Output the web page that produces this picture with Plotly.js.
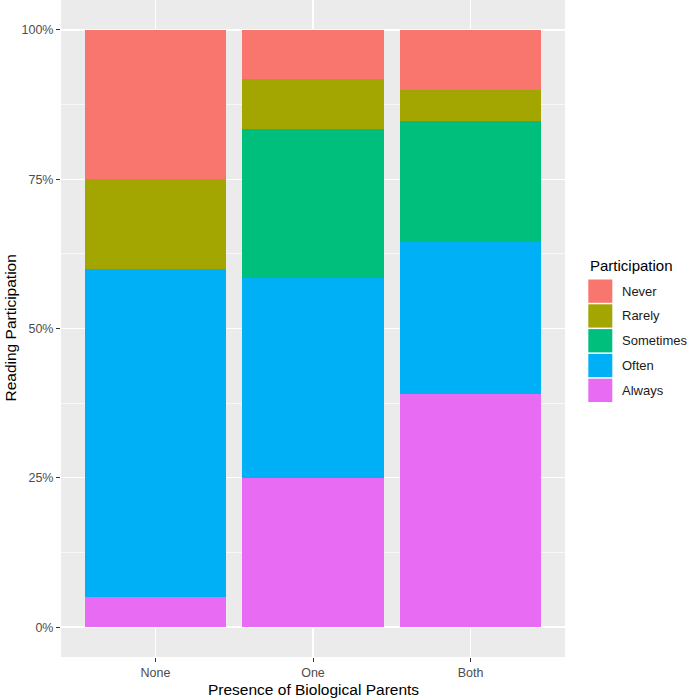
<!DOCTYPE html>
<html>
<head>
<meta charset="utf-8">
<script src="https://cdn.plot.ly/plotly-3.0.1.min.js"></script>
<style>
  html, body { margin: 0; padding: 0; background: #fff; }
  #plot { width: 690px; height: 699px; }
</style>
</head>
<body>
<div id="plot"></div>
<script>
// categories on the x axis
const categories = ["None", "One", "Both"]
// participation levels, legend order (top to bottom)
const levels = ["Never", "Rarely", "Sometimes", "Often", "Always"]
const colors = ["#F8766D", "#A3A500", "#00BF7D", "#00B0F6", "#E76BF3"]

// percentages per category (None, One, Both)
const never = [25.0, 8.3, 10.0]
const rarely = [15.0, 8.3, 5.2]
const sometimes = [0.0, 25.0, 20.3]
const often = [55.0, 33.4, 25.4]
const always = [5.0, 25.0, 39.1]

const yTicks = [0, 25, 50, 75, 100]

const series = [never, rarely, sometimes, often, always]

// plot area in pixels
const L = 61, R = 125, T = 0, B = 42, W = 690, H = 699
const pw = W - L - R, ph = H - T - B
const px = x => (x - L) / pw
const py = y => (H - B - y) / ph

const font = "Liberation Sans, Arial, sans-serif"

// stack from bottom: Always first, Never last
const data = []
for (let i = levels.length - 1; i >= 0; i--){
    data.push({
        type: "bar",
        name: levels[i],
        x: categories,
        y: series[i],
        marker: {color: colors[i], line: {width: 0}},
        hoverinfo: "x+y+name",
        showlegend: false
    })
}

const shapes = [], annotations = []

// hand-made legend in ggplot style
annotations.push({
    text: "Participation", xref: "paper", yref: "paper",
    x: px(588), y: py(265), xanchor: "left", yanchor: "middle",
    showarrow: false, font: {family: font, size: 15, color: "#000"}
})
for (let i = 0; i < levels.length; i++){
    const top = 279.5 + i * 24.8
    shapes.push({
        type: "rect", xref: "paper", yref: "paper",
        x0: px(588.3), x1: px(612.3), y0: py(top), y1: py(top + 23.3),
        fillcolor: colors[i], line: {width: 0}
    })
    annotations.push({
        text: levels[i], xref: "paper", yref: "paper",
        x: px(619.5), y: py(top + 11.6), xanchor: "left", yanchor: "middle",
        showarrow: false, font: {family: font, size: 13, color: "#1a1a1a"}
    })
}

// axis titles
annotations.push({
    text: "Presence of Biological Parents", xref: "paper", yref: "paper",
    x: 0.5, y: py(689), xanchor: "center", yanchor: "middle",
    showarrow: false, font: {family: font, size: 15.5, color: "#000"}
})
annotations.push({
    text: "Reading Participation", xref: "paper", yref: "paper",
    x: px(10), y: 0.5, xanchor: "center", yanchor: "middle", textangle: -90,
    showarrow: false, font: {family: font, size: 15.5, color: "#000"}
})

const layout = {
    width: W,
    height: H,
    margin: {l: L, r: R, t: T, b: B, pad: 0},
    paper_bgcolor: "#ffffff",
    plot_bgcolor: "#EBEBEB",
    barmode: "stack",
    bargap: 0.1,
    showlegend: false,
    font: {family: font},
    xaxis: {
        type: "category",
        categoryorder: "array",
        categoryarray: categories,
        range: [-0.6, 2.6],
        showgrid: true,
        gridcolor: "#ffffff",
        gridwidth: 1.3,
        zeroline: false,
        showline: false,
        ticks: "outside",
        ticklen: 4,
        tickwidth: 1,
        tickcolor: "#333333",
        tickfont: {family: font, size: 12.5, color: "#4D4D4D"},
        fixedrange: true
    },
    yaxis: {
        range: [-5, 105],
        tickmode: "array",
        tickvals: yTicks,
        ticktext: yTicks.map(v => v + "%"),
        showgrid: true,
        gridcolor: "#ffffff",
        gridwidth: 1.3,
        minor: {dtick: 12.5, tick0: 0, showgrid: true, gridcolor: "#ffffff", gridwidth: 0.6, ticks: ""},
        zeroline: false,
        showline: false,
        ticks: "outside",
        ticklen: 4,
        tickwidth: 1,
        tickcolor: "#333333",
        tickfont: {family: font, size: 12.5, color: "#4D4D4D"},
        fixedrange: true
    },
    shapes: shapes,
    annotations: annotations
}

Plotly.newPlot("plot", data, layout, {displayModeBar: false, staticPlot: true})
</script>
</body>
</html>
